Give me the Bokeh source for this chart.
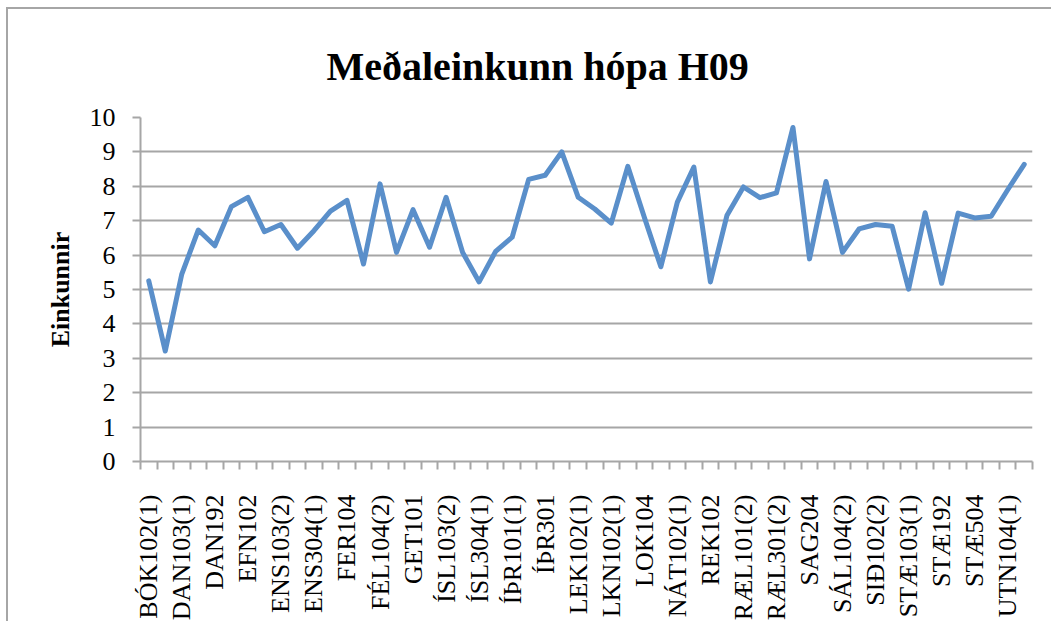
import math
from bokeh.plotting import figure
from bokeh.models import FixedTicker, Title, Range1d
from bokeh.embed import file_html
from bokeh.resources import INLINE

categories = [
    "BÓK102(1)", "BÓK102(2)", "DAN103(1)", "DAN103(2)", "DAN192", "DAN202",
    "EFN102", "ENS103(1)", "ENS103(2)", "ENS203", "ENS304(1)", "ENS304(2)",
    "FER104", "FÉL104(1)", "FÉL104(2)", "FRA103", "GET101", "ÍSL103(1)",
    "ÍSL103(2)", "ÍSL203", "ÍSL304(1)", "ÍSL304(2)", "ÍÞR101(1)", "ÍÞR101(2)",
    "ÍÞR301", "LEK101", "LEK102(1)", "LEK102(2)", "LKN102(1)", "LKN102(2)",
    "LOK104", "NÁT101", "NÁT102(1)", "NÁT102(2)", "REK102", "RÆL101(1)",
    "RÆL101(2)", "RÆL301(1)", "RÆL301(2)", "SAG104", "SAG204", "SÁL104(1)",
    "SÁL104(2)", "SIÐ102(1)", "SIÐ102(2)", "STÆ102", "STÆ103(1)", "STÆ103(2)",
    "STÆ192", "STÆ303", "STÆ504", "UTN102", "UTN104(1)", "UTN104(2)",
]
values = [
    5.25, 3.21, 5.45, 6.73, 6.27, 7.41, 7.68, 6.68, 6.89, 6.20,
    6.71, 7.28, 7.59, 5.74, 8.07, 6.08, 7.32, 6.23, 7.68, 6.08,
    5.22, 6.11, 6.52, 8.20, 8.32, 9.00, 7.68, 7.34, 6.93, 8.58,
    7.10, 5.66, 7.54, 8.56, 5.22, 7.15, 7.98, 7.67, 7.81, 9.71,
    5.89, 8.14, 6.08, 6.76, 6.89, 6.84, 5.01, 7.23, 5.18, 7.22,
    7.08, 7.13, 7.90, 8.64,
]
y_ticks = list(range(0, 11))
title_text = "Meðaleinkunn hópa H09"
y_title = "Einkunnir"

n = len(categories)
xs = list(range(n))

p = figure(
    width=1045, height=614, output_backend="svg", toolbar_location=None,
    x_range=Range1d(-0.5, n - 0.5), y_range=Range1d(0, 10),
    min_border_left=132, min_border_right=21, min_border_top=108, min_border_bottom=162,
)
p.styles = {
    "border-top": "2px solid #a6a6a6", "border-left": "2px solid #a6a6a6",
    "margin-left": "6px", "margin-top": "7px",
}
p.outline_line_color = None
p.background_fill_color = "white"
p.border_fill_color = "white"

grid_color = "#a6a6a6"
serif = "Liberation Serif"

# x axis
p.xgrid.visible = False
xax = p.xaxis[0]
xax.ticker = FixedTicker(ticks=list(range(0, n, 2)), minor_ticks=[i - 0.5 for i in range(n + 1)])
xax.major_label_overrides = {i: categories[i] for i in range(0, n, 2)}
xax.major_label_orientation = math.pi / 2
xax.major_tick_out = 0
xax.major_tick_in = 0
xax.minor_tick_out = 8
xax.minor_tick_in = 0
xax.minor_tick_line_color = grid_color
xax.minor_tick_line_width = 2
xax.axis_line_color = grid_color
xax.axis_line_width = 2
xax.major_label_standoff = 25
xax.major_label_text_font = serif
xax.major_label_text_font_size = "26px"
xax.major_label_text_color = "black"

# y axis
yax = p.yaxis[0]
yax.ticker = FixedTicker(ticks=y_ticks, minor_ticks=[])
yax.major_tick_out = 8
yax.major_tick_in = 0
yax.major_tick_line_color = grid_color
yax.major_tick_line_width = 2
yax.axis_line_color = grid_color
yax.axis_line_width = 2
yax.major_label_standoff = 17
yax.major_label_text_font = serif
yax.major_label_text_font_size = "26px"
yax.major_label_text_color = "black"
yax.axis_label = y_title
yax.axis_label_text_font = serif
yax.axis_label_text_font_style = "bold"
yax.axis_label_text_font_size = "26px"
yax.axis_label_text_color = "black"
yax.axis_label_standoff = 12

p.ygrid.ticker = FixedTicker(ticks=y_ticks)
p.ygrid.grid_line_color = grid_color
p.ygrid.grid_line_width = 2

p.line(xs, values, line_color="#5A8FCA", line_width=5, line_join="round", line_cap="round")

title = Title(
    text=title_text, align="left", offset=186, standoff=58,
    text_font=serif, text_font_style="bold", text_font_size="40px", text_color="black",
)
p.add_layout(title, "above")

open("out.html", "w").write(file_html(p, INLINE))
